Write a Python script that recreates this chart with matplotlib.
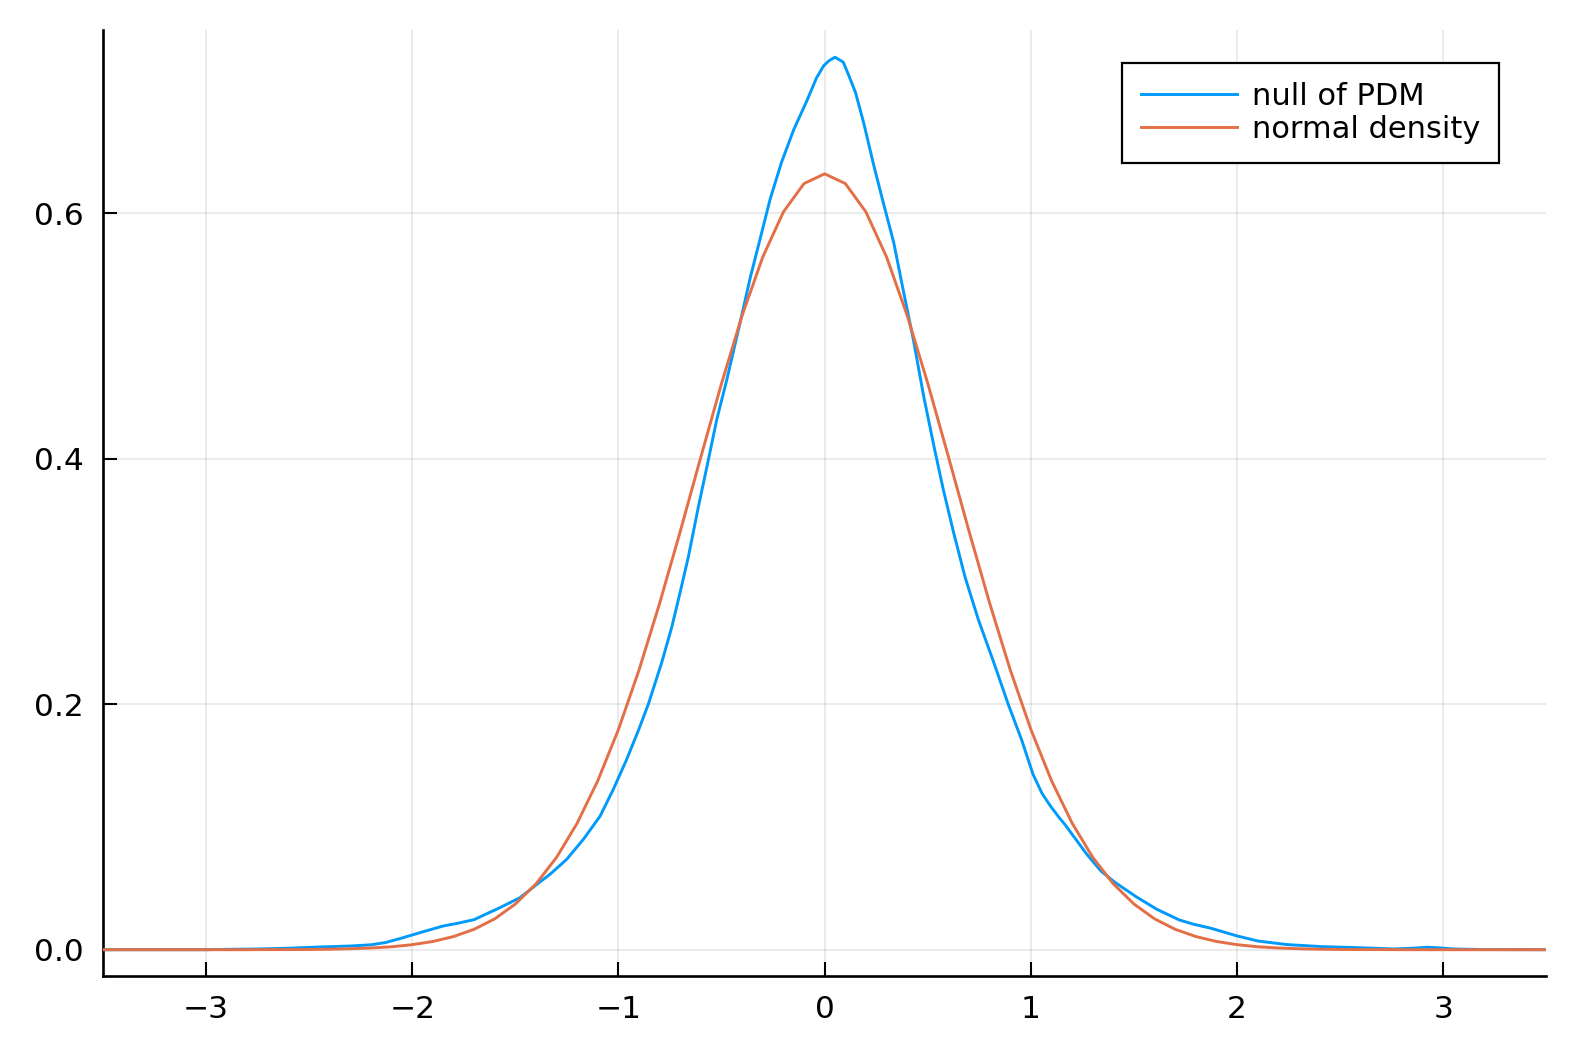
#!/usr/bin/python3

import numpy as np
import matplotlib
matplotlib.use('Agg')
import matplotlib.pyplot as plt

# null of PDM (kernel density)
pdm_x = [-3.5, -3.0, -2.9, -2.75, -2.6, -2.45, -2.3, -2.2, -2.13, -2.05,
         -1.95, -1.85, -1.78, -1.7, -1.574, -1.477, -1.396, -1.332, -1.251, -1.17,
         -1.089, -1.025, -0.96, -0.9, -0.855, -0.79, -0.741, -0.701, -0.661, -0.612,
         -0.564, -0.523, -0.475, -0.418, -0.36, -0.31, -0.265, -0.21, -0.15, -0.085,
         -0.04, -0.005, 0.02, 0.05, 0.09, 0.115, 0.15, 0.19, 0.235, 0.285,
         0.335, 0.38, 0.43, 0.48, 0.53, 0.575, 0.625, 0.68, 0.745, 0.82,
         0.89, 0.955, 1.01, 1.055, 1.095, 1.14, 1.165, 1.27, 1.34, 1.41,
         1.51, 1.61, 1.72, 1.79, 1.875, 2.0, 2.1, 2.24, 2.41, 2.58,
         2.76, 2.85, 2.92, 2.98, 3.05, 3.2, 3.5]
pdm_y = [0.0, 0.0, 0.0003, 0.0006, 0.0012, 0.0022, 0.003, 0.004, 0.0058, 0.0095,
         0.0145, 0.0193, 0.0215, 0.0245, 0.0343, 0.0424, 0.0532, 0.0614, 0.0736, 0.0899,
         0.1088, 0.1306, 0.155, 0.180, 0.200, 0.234, 0.263, 0.291, 0.320, 0.361,
         0.399, 0.432, 0.464, 0.505, 0.548, 0.581, 0.611, 0.641, 0.668, 0.692,
         0.710, 0.720, 0.724, 0.727, 0.723, 0.713, 0.698, 0.673, 0.641, 0.608,
         0.576, 0.538, 0.497, 0.451, 0.410, 0.375, 0.340, 0.304, 0.269, 0.234,
         0.200, 0.171, 0.143, 0.127, 0.117, 0.107, 0.102, 0.078, 0.064, 0.0546,
         0.0432, 0.033, 0.0242, 0.0207, 0.0174, 0.0112, 0.0071, 0.0042, 0.0025, 0.0017,
         0.0006, 0.0012, 0.002, 0.0015, 0.0006, 0.0001, 0.0]

# normal density, sampled every 0.1 from -3.5 to 3.5
norm_x = [round(-3.5 + 0.1 * i, 1) for i in range(71)]
norm_half = [0.632, 0.6241, 0.6010, 0.5643, 0.5167, 0.4613, 0.4016, 0.3409, 0.2823, 0.2279,
             0.1794, 0.1377, 0.1031, 0.0752, 0.0536, 0.0372, 0.0251, 0.0166, 0.0107, 0.0067,
             0.0041, 0.0024, 0.0014, 0.0008, 0.0004, 0.0002, 0.0001, 0.0001, 0.0, 0.0,
             0.0, 0.0, 0.0, 0.0, 0.0, 0.0]
norm_y = norm_half[:0:-1] + norm_half

x_ticks = [-3, -2, -1, 0, 1, 2, 3]
y_ticks = [0.0, 0.2, 0.4, 0.6]
y_labels = ['0.0', '0.2', '0.4', '0.6']


def main():
  plt.rcParams['font.family'] = ['DejaVu Sans']
  fig = plt.figure(figsize=(15.78, 10.52), dpi=100)
  ax = fig.add_axes([0.0652, 0.0718, 0.9148, 0.8995])

  ax.plot(pdm_x, pdm_y, color='#009AFA', lw=2.1, label='null of PDM', zorder=3)
  ax.plot(norm_x, norm_y, color='#E36F47', lw=2.1, label='normal density', zorder=4)

  ax.set_xlim(-3.5, 3.5)
  ax.set_ylim(-0.0218, 0.749)
  ax.set_xticks(x_ticks)
  ax.set_xticklabels(['\u2212' + str(-t) if t < 0 else str(t) for t in x_ticks])
  ax.set_yticks(y_ticks)
  ax.set_yticklabels(y_labels)

  # Decorations
  for side in ('top', 'right'):
    ax.spines[side].set_visible(False)
  for side in ('left', 'bottom'):
    ax.spines[side].set_linewidth(1.9)
  ax.tick_params(axis='both', direction='in', length=10, width=1.5, labelsize=22.5)
  ax.tick_params(axis='y', pad=14)
  ax.tick_params(axis='x', pad=13)
  ax.grid(color='black', alpha=0.1, lw=1.1)

  leg = ax.legend(loc='upper right', bbox_to_anchor=(0.950, 0.9404),
                  bbox_transform=fig.transFigure, borderaxespad=0,
                  fontsize=22, fancybox=False, framealpha=1, edgecolor='black',
                  handlelength=3.15, handletextpad=0.47, labelspacing=0.14,
                  borderpad=0.62)
  leg.get_frame().set_linewidth(1.6)

  plt.savefig('out.png')


if __name__ == "__main__":
  main()
